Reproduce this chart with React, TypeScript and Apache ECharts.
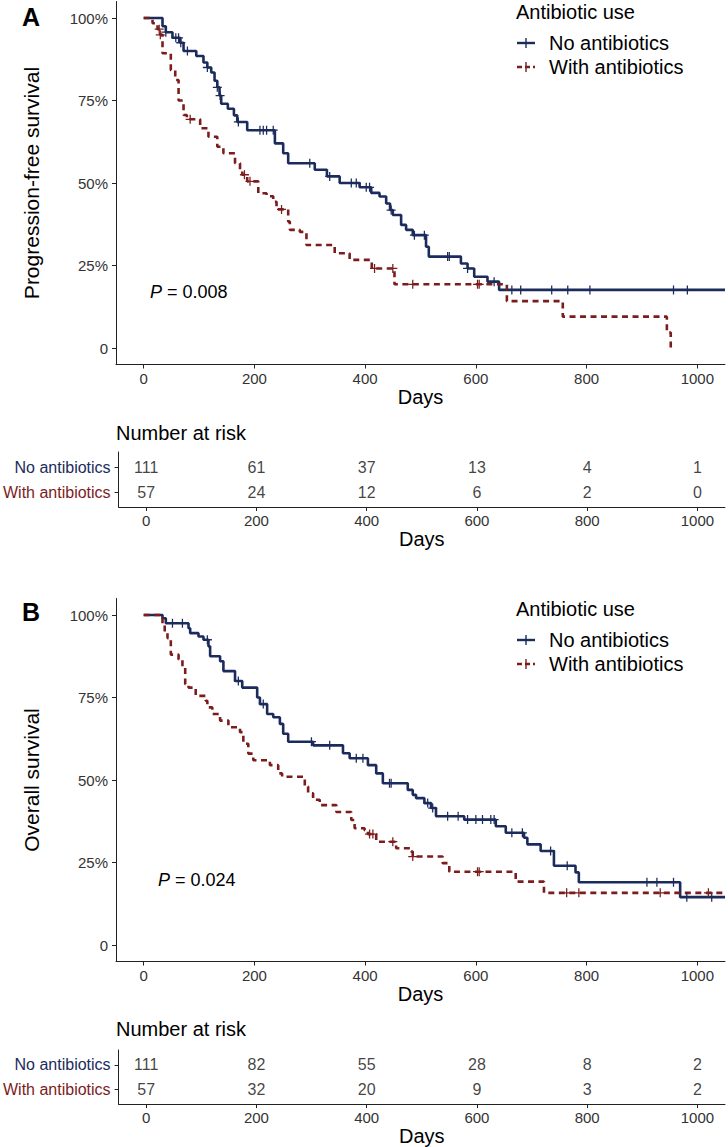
import React, { useEffect, useRef } from "react";
import * as echarts from "echarts";

// ---------- data ----------
const DAY_TICKS = [0, 200, 400, 600, 800, 1000];
const PCT_TICKS = [0, 0.25, 0.5, 0.75, 1];
const GROUPS = ["No antibiotics", "With antibiotics"];

// Panel A: progression-free survival, step change points [day, survival]
const PFS_NO: number[][] = [
  [0, 1], [34, 0.975], [40, 0.957], [52, 0.94], [66, 0.925], [72, 0.9], [95, 0.885],
  [108, 0.865], [115, 0.85], [122, 0.835], [128, 0.81], [133, 0.79], [137, 0.765],
  [140, 0.74], [152, 0.725], [163, 0.705], [169, 0.685], [187, 0.66], [237, 0.62],
  [252, 0.59], [261, 0.56], [309, 0.54], [331, 0.52], [354, 0.5], [390, 0.487],
  [411, 0.47], [426, 0.459], [438, 0.438], [445, 0.418], [450, 0.403], [465, 0.373],
  [474, 0.358], [486, 0.342], [510, 0.307], [515, 0.277], [573, 0.256], [585, 0.241],
  [597, 0.216], [621, 0.201], [642, 0.176], [1050, 0.176],
];
const PFS_NO_CENSOR = [40, 58, 63, 67, 79, 115, 133, 138, 171, 210, 216, 222, 234, 300, 336,
  375, 384, 402, 408, 447, 489, 507, 549, 552, 585, 633, 665, 681, 737, 766, 806, 957, 982];

const PFS_AB: number[][] = [
  [0, 1], [16, 0.984], [25, 0.966], [30, 0.949], [34, 0.893], [49, 0.842], [57, 0.812],
  [63, 0.75], [72, 0.706], [78, 0.693], [102, 0.666], [117, 0.64], [133, 0.61],
  [144, 0.59], [165, 0.56], [174, 0.54], [178, 0.525], [187, 0.505], [207, 0.469],
  [222, 0.46], [234, 0.443], [240, 0.42], [261, 0.383], [264, 0.358], [282, 0.352],
  [294, 0.312], [345, 0.287], [372, 0.267], [412, 0.241], [453, 0.193], [656, 0.142],
  [757, 0.095], [945, 0.047], [952, 0],
];
const PFS_AB_CENSOR = [28, 30, 84, 182, 192, 249, 417, 450, 486, 603, 606];

// Panel B: overall survival
const OS_NO: number[][] = [
  [0, 1], [34, 0.99], [40, 0.975], [81, 0.96], [84, 0.945], [99, 0.935], [108, 0.925],
  [117, 0.905], [120, 0.875], [138, 0.86], [144, 0.83], [165, 0.8], [178, 0.78],
  [205, 0.75], [210, 0.73], [223, 0.7], [234, 0.69], [246, 0.67], [252, 0.64],
  [261, 0.616], [306, 0.605], [360, 0.581], [372, 0.566], [405, 0.545], [420, 0.52],
  [432, 0.49], [477, 0.47], [486, 0.455], [492, 0.445], [507, 0.43], [519, 0.415],
  [528, 0.39], [579, 0.38], [636, 0.36], [654, 0.34], [687, 0.325], [693, 0.305],
  [717, 0.285], [741, 0.24], [780, 0.22], [786, 0.19], [969, 0.145], [1050, 0.145],
];
const OS_NO_CENSOR = [52, 70, 115, 171, 216, 303, 336, 384, 396, 444, 447, 513, 522, 549,
  568, 585, 600, 612, 627, 633, 665, 684, 735, 765, 909, 927, 957, 981, 1026];

const OS_AB: number[][] = [
  [0, 1], [34, 0.975], [38, 0.95], [43, 0.93], [49, 0.88], [63, 0.865], [70, 0.84],
  [75, 0.79], [81, 0.78], [94, 0.755], [112, 0.74], [115, 0.72], [124, 0.7],
  [138, 0.68], [153, 0.66], [174, 0.645], [180, 0.61], [189, 0.58], [198, 0.56],
  [228, 0.545], [243, 0.52], [250, 0.51], [291, 0.48], [297, 0.46], [306, 0.44],
  [318, 0.424], [348, 0.403], [375, 0.379], [381, 0.354], [399, 0.348], [405, 0.336],
  [420, 0.313], [456, 0.293], [483, 0.283], [486, 0.268], [540, 0.248], [552, 0.222],
  [672, 0.192], [723, 0.158], [1050, 0.158],
];
const OS_AB_CENSOR = [408, 414, 450, 486, 603, 606, 764, 786, 933, 1020];

// Number at risk
const RISK_PFS_NO = [111, 61, 37, 13, 4, 1];
const RISK_PFS_AB = [57, 24, 12, 6, 2, 0];
const RISK_OS_NO = [111, 82, 55, 28, 8, 2];
const RISK_OS_AB = [57, 32, 20, 9, 3, 2];

// ---------- style ----------
const BLUE = "#1b2c5c";
const RED = "#7c1d1d";
const FONT = "Liberation Sans, Arial, Helvetica, sans-serif";
const PLUS =
  "path://M-0.14,-1H0.14V-0.14H1V0.14H0.14V1H-0.14V0.14H-1V-0.14H-0.14Z";

function survAt(steps: number[][], day: number) {
  let v = steps[0][1];
  for (const [t, s] of steps) {
    if (t <= day) v = s;
  }
  return v;
}

export default function App() {
  const ref = useRef<HTMLDivElement>(null);

  useEffect(() => {
    document.body.style.margin = "0";
    document.body.style.overflow = "hidden";
    if (!ref.current) return;
    const chart = echarts.init(ref.current, undefined, { renderer: "svg" });

    const W = 609;
    const L = 116;
    const plotH = 363;
    const tabH = 55;
    const grids = [
      { left: L, top: 1.5, width: W, height: plotH },
      { left: L, top: 452, width: W, height: tabH },
      { left: L, top: 598.5, width: W, height: plotH },
      { left: L, top: 1050, width: W, height: tabH },
    ];

    const axisLine = { show: true, onZero: false, lineStyle: { color: "#222", width: 1 } };
    const mkX = (gi: number, nameGap: number) => ({
      type: "value",
      gridIndex: gi,
      min: -50,
      max: 1050,
      axisLine,
      axisTick: { show: true, customValues: DAY_TICKS, length: 4, lineStyle: { color: "#222" } },
      axisLabel: {
        customValues: DAY_TICKS,
        margin: 6,
        fontSize: 15,
        color: "#333",
        fontFamily: FONT,
        formatter: (v: number) => String(v),
      },
      splitLine: { show: false },
      name: "Days",
      nameLocation: "middle",
      nameGap,
      nameTextStyle: { fontSize: 20, color: "#000", fontFamily: FONT },
    });
    const mkYPlot = (gi: number, name: string) => ({
      type: "value",
      gridIndex: gi,
      min: -0.05,
      max: 1.05,
      axisLine,
      axisTick: { show: true, customValues: PCT_TICKS, length: 4, lineStyle: { color: "#222" } },
      axisLabel: {
        customValues: PCT_TICKS,
        margin: 8,
        fontSize: 15,
        color: "#333",
        fontFamily: FONT,
        formatter: (v: number) => (v === 0 ? "0" : Math.round(v * 100) + "%"),
      },
      splitLine: { show: false },
      name,
      nameLocation: "middle",
      nameGap: 74,
      nameTextStyle: { fontSize: 21, color: "#000", fontFamily: FONT },
    });
    const mkYTab = (gi: number) => ({
      type: "value",
      gridIndex: gi,
      min: 0.4,
      max: 2.6,
      axisLine,
      axisTick: { show: true, customValues: [1, 2], length: 4, lineStyle: { color: "#222" } },
      axisLabel: {
        customValues: [1, 2],
        margin: 8,
        fontSize: 16,
        fontFamily: FONT,
        formatter: (v: number) => (v === 2 ? "{n|" + GROUPS[0] + "}" : "{w|" + GROUPS[1] + "}"),
        rich: {
          n: { color: BLUE, fontSize: 16, fontFamily: FONT },
          w: { color: RED, fontSize: 16, fontFamily: FONT },
        },
      },
      splitLine: { show: false },
    });

    const lineSeries = (name: string, data: number[][], gi: number, color: string, dashed: boolean) => ({
      type: "line",
      name,
      xAxisIndex: gi,
      yAxisIndex: gi,
      step: "end",
      data,
      showSymbol: false,
      symbol: "none",
      lineStyle: { color, width: 2.6, type: dashed ? [6, 4.5] : "solid", cap: "butt" },
      z: dashed ? 3 : 2,
      silent: true,
    });
    const censorSeries = (name: string, steps: number[][], days: number[], gi: number, color: string) => ({
      type: "scatter",
      name,
      xAxisIndex: gi,
      yAxisIndex: gi,
      data: days.map((d) => [d, survAt(steps, d)]),
      symbol: PLUS,
      symbolSize: 9,
      itemStyle: { color, opacity: 1 },
      z: 4,
      silent: true,
    });
    const riskSeries = (vals: number[], row: number, gi: number) => ({
      type: "scatter",
      xAxisIndex: gi,
      yAxisIndex: gi,
      data: vals.map((v, i) => [DAY_TICKS[i], row, v]),
      symbolSize: 0,
      label: {
        show: true,
        position: "inside",
        formatter: (p: any) => String(p.value[2]),
        fontSize: 16,
        color: "#111",
        fontFamily: FONT,
      },
      silent: true,
    });

    const txt = (text: string, x: number, y: number, size: number, extra: any = {}) => ({
      type: "text",
      x,
      y,
      style: {
        text,
        fontSize: size,
        fontFamily: FONT,
        fill: "#000",
        verticalAlign: "middle",
        ...extra,
      },
    });
    const legendGraphic = (y0: number) => [
      txt("Antibiotic use", 516, y0, 20),
      { type: "line", shape: { x1: 517, y1: y0 + 31, x2: 535, y2: y0 + 31 }, style: { stroke: BLUE, lineWidth: 2.4 } },
      { type: "line", shape: { x1: 526, y1: y0 + 26, x2: 526, y2: y0 + 36 }, style: { stroke: BLUE, lineWidth: 1.4 } },
      txt(GROUPS[0], 549, y0 + 31, 20),
      { type: "line", shape: { x1: 517, y1: y0 + 55, x2: 535, y2: y0 + 55 }, style: { stroke: RED, lineWidth: 2.4, lineDash: [5, 3] } },
      { type: "line", shape: { x1: 526, y1: y0 + 50, x2: 526, y2: y0 + 60 }, style: { stroke: RED, lineWidth: 1.4 } },
      txt(GROUPS[1], 549, y0 + 55, 20),
    ];
    const pText = (val: string, x: number, y: number) => ({
      type: "text",
      x,
      y,
      style: {
        text: "{i|P} = " + val,
        fontSize: 18,
        fontFamily: FONT,
        fill: "#000",
        verticalAlign: "middle",
        rich: { i: { fontStyle: "italic", fontSize: 18, fontFamily: FONT, fill: "#000" } },
      },
    });

    chart.setOption({
      animation: false,
      backgroundColor: "#fff",
      grid: grids,
      xAxis: [mkX(0, 22), mkX(1, 21), mkX(2, 22), mkX(3, 21)],
      yAxis: [
        mkYPlot(0, "Progression-free survival"),
        mkYTab(1),
        mkYPlot(2, "Overall survival"),
        mkYTab(3),
      ],
      series: [
        lineSeries(GROUPS[0], PFS_NO, 0, BLUE, false),
        lineSeries(GROUPS[1], PFS_AB, 0, RED, true),
        censorSeries(GROUPS[0], PFS_NO, PFS_NO_CENSOR, 0, BLUE),
        censorSeries(GROUPS[1], PFS_AB, PFS_AB_CENSOR, 0, RED),
        riskSeries(RISK_PFS_NO, 2, 1),
        riskSeries(RISK_PFS_AB, 1, 1),
        lineSeries(GROUPS[0], OS_NO, 2, BLUE, false),
        lineSeries(GROUPS[1], OS_AB, 2, RED, true),
        censorSeries(GROUPS[0], OS_NO, OS_NO_CENSOR, 2, BLUE),
        censorSeries(GROUPS[1], OS_AB, OS_AB_CENSOR, 2, RED),
        riskSeries(RISK_OS_NO, 2, 3),
        riskSeries(RISK_OS_AB, 1, 3),
      ],
      graphic: [
        txt("A", 22, 17, 25, { fontWeight: "bold" }),
        txt("B", 22, 612, 25, { fontWeight: "bold" }),
        ...legendGraphic(12),
        ...legendGraphic(609),
        pText("0.008", 150, 292),
        pText("0.024", 158, 880),
        txt("Number at risk", 116, 433, 20),
        txt("Number at risk", 116, 1029, 20),
      ],
    });

    return () => chart.dispose();
  }, []);

  return <div ref={ref} style={{ width: 728, height: 1147 }} />;
}
